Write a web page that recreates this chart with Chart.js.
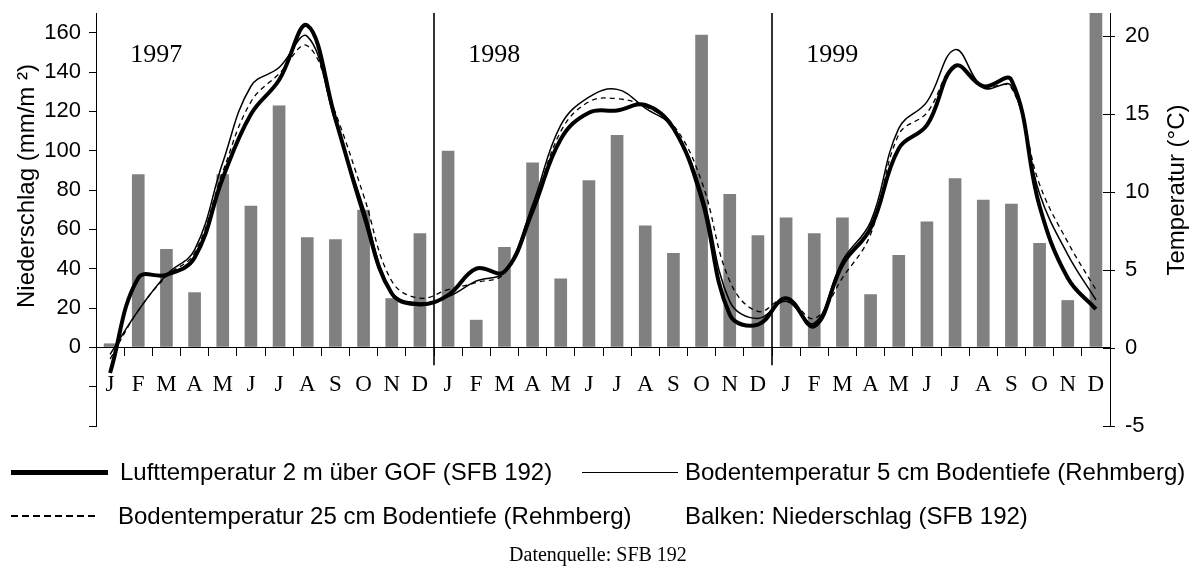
<!DOCTYPE html>
<html lang="de">
<head>
<meta charset="utf-8">
<title>Niederschlag und Temperatur 1997-1999</title>
<script src="https://cdn.jsdelivr.net/npm/chart.js@4.4.1/dist/chart.umd.min.js"></script>
<style>
  html, body { margin: 0; padding: 0; background: #fff; }
  #wrap { position: relative; width: 1196px; height: 568px; }
  #chart { position: absolute; left: 0; top: 0; }
  .lg { position: absolute; font-family: Arial, "Liberation Sans", sans-serif; font-size: 24px; line-height: 28px; color: #000; white-space: nowrap; }
  .smp { position: absolute; background: #000; }
  .foot { position: absolute; font-family: "Times New Roman", "Liberation Serif", serif; font-size: 20px; line-height: 24px; color: #000; white-space: nowrap; }
</style>
</head>
<body>
<div id="wrap">
  <canvas id="chart" width="1196" height="568"></canvas>

  <!-- Legende -->
  <div class="smp" style="left:11px;top:470px;width:97px;height:5px"></div>
  <div class="lg" style="left:120px;top:458px">Lufttemperatur 2 m über GOF (SFB 192)</div>
  <div class="smp" style="left:582px;top:472px;width:96px;height:1.3px"></div>
  <div class="lg" style="left:685px;top:458px">Bodentemperatur 5 cm Bodentiefe (Rehmberg)</div>

  <div class="smp" style="left:11px;top:515px;width:86px;height:1.5px;background:repeating-linear-gradient(90deg,#000 0 7px,transparent 7px 11px)"></div>
  <div class="lg" style="left:118px;top:502px">Bodentemperatur 25 cm Bodentiefe (Rehmberg)</div>
  <div class="lg" style="left:685px;top:502px">Balken: Niederschlag (SFB 192)</div>

  <div class="foot" style="left:0;width:1196px;text-align:center;top:542px">Datenquelle: SFB 192</div>
</div>

<script>
  'use strict';

  // ============ Daten ============

  const years = ['1997', '1998', '1999'];
  const monthInitials = ['J', 'F', 'M', 'A', 'M', 'J', 'J', 'A', 'S', 'O', 'N', 'D'];
  const months = monthInitials.concat(monthInitials, monthInitials);

  // Niederschlag (mm/m²), Monatssummen Jan 1997 - Dez 1999
  const niederschlag = [
    2, 88, 50, 28, 88, 72, 123, 56, 55, 70, 25, 58,
    100, 14, 51, 94, 35, 85, 108, 62, 48, 159, 78, 57,
    66, 58, 66, 27, 47, 64, 86, 75, 73, 53, 24, 170
  ];

  // Lufttemperatur 2 m über GOF (°C)
  const luftTemp = [
    -1.6, 4.5, 4.7, 5.8, 10.9, 15.0, 17.2, 20.7, 14.7, 8.6, 3.5, 2.8,
    3.4, 5.1, 4.9, 8.8, 13.4, 15.1, 15.25, 15.6, 14.1, 9.6, 2.15, 1.5,
    3.2, 1.4, 5.35, 7.7, 12.8, 14.3, 18.1, 16.8, 17.2, 9.1, 4.5, 2.5
  ];

  // Bodentemperatur 5 cm Bodentiefe (°C)
  const boden5 = [
    -0.4, 2.4, 4.7, 6.3, 11.9, 16.8, 18.0, 20.0, 14.5, 9.0, 3.6, 2.9,
    3.3, 4.3, 4.9, 9.2, 14.3, 16.1, 16.6, 15.4, 14.1, 10.0, 3.0, 1.9,
    3.0, 1.6, 5.6, 8.1, 14.1, 15.8, 19.15, 16.7, 16.8, 9.9, 6.0, 3.1
  ];

  // Bodentemperatur 25 cm Bodentiefe (°C)
  const boden25 = [
    -0.7, 2.4, 4.6, 6.1, 11.3, 15.8, 17.6, 19.4, 15.1, 9.8, 4.3, 3.2,
    3.75, 4.2, 4.8, 8.9, 13.9, 15.8, 16.0, 15.5, 14.3, 10.7, 4.3, 2.35,
    3.2, 1.9, 4.5, 7.3, 13.7, 15.1, 18.1, 16.8, 16.7, 10.5, 6.8, 3.75
  ];

  // ============ Stil ============

  const SANS = 'Arial, "Liberation Sans", sans-serif';
  const SERIF = '"Times New Roman", "Liberation Serif", serif';

  function zeroPadding(scale) {
    scale.paddingTop = 0;
    scale.paddingBottom = 0;
    scale.paddingLeft = 0;
    scale.paddingRight = 0;
  }

  // Jahrestrenner, Jahreszahlen, Achsentitel
  const decorPlugin = {
    id: 'decor',
    beforeDatasetsDraw(chart) {
      const ctx = chart.ctx;
      const xs = chart.scales.x;
      const yT = chart.scales.yT;
      const area = chart.chartArea;
      const yBottom = yT.getPixelForValue(-1.1);
      ctx.save();
      ctx.strokeStyle = '#000';
      ctx.lineWidth = 1.6;
      [12, 24].forEach(function (i) {
        const x = (xs.getPixelForValue(i - 1) + xs.getPixelForValue(i)) / 2;
        ctx.beginPath();
        ctx.moveTo(x, area.top);
        ctx.lineTo(x, yBottom);
        ctx.stroke();
      });

      // rechte Achse: Teilstriche ragen auch nach innen
      ctx.lineWidth = 1;
      yT.ticks.forEach(function (t) {
        const y = Math.round(yT.getPixelForValue(t.value)) + 0.5;
        ctx.beginPath();
        ctx.moveTo(area.right - 7, y);
        ctx.lineTo(area.right, y);
        ctx.stroke();
      });
      ctx.restore();
    },
    afterDraw(chart) {
      const ctx = chart.ctx;
      const xs = chart.scales.x;
      ctx.save();
      ctx.fillStyle = '#000';

      // Jahreszahlen
      ctx.font = '26px ' + SERIF;
      ctx.textAlign = 'center';
      ctx.textBaseline = 'alphabetic';
      years.forEach(function (yr, k) {
        const x = (xs.getPixelForValue(12 * k + 1) + xs.getPixelForValue(12 * k + 2)) / 2 + 4;
        ctx.fillText(yr, x, 62);
      });

      // Achsentitel
      ctx.font = '24px ' + SANS;
      ctx.save();
      ctx.translate(34, 186);
      ctx.rotate(-Math.PI / 2);
      ctx.fillText('Niederschlag (mm/m \u00B2)', 0, 0);
      ctx.restore();

      ctx.save();
      ctx.translate(1184, 190);
      ctx.rotate(-Math.PI / 2);
      ctx.fillText('Temperatur (\u00B0C)', 0, 0);
      ctx.restore();

      ctx.restore();
    }
  };

  // ============ Diagramm ============

  new Chart(document.getElementById('chart'), {
    type: 'bar',
    data: {
      labels: months,
      datasets: [
        {
          type: 'line',
          label: 'Lufttemperatur 2 m über GOF (SFB 192)',
          data: luftTemp,
          yAxisID: 'yT',
          borderColor: '#000',
          borderWidth: 4,
          tension: 0.4,
          pointRadius: 0,
          fill: false,
          order: 0
        },
        {
          type: 'line',
          label: 'Bodentemperatur 5 cm Bodentiefe (Rehmberg)',
          data: boden5,
          yAxisID: 'yT',
          borderColor: '#000',
          borderWidth: 1.5,
          tension: 0.4,
          pointRadius: 0,
          fill: false,
          order: 1
        },
        {
          type: 'line',
          label: 'Bodentemperatur 25 cm Bodentiefe (Rehmberg)',
          data: boden25,
          yAxisID: 'yT',
          borderColor: '#000',
          borderWidth: 1.3,
          borderDash: [5, 4],
          tension: 0.4,
          pointRadius: 0,
          fill: false,
          order: 2
        },
        {
          type: 'bar',
          label: 'Niederschlag (SFB 192)',
          data: niederschlag,
          yAxisID: 'y',
          backgroundColor: '#808080',
          barPercentage: 0.45,
          categoryPercentage: 1.0,
          order: 3
        }
      ]
    },
    options: {
      responsive: false,
      animation: false,
      layout: { padding: { left: 0, right: 0, top: 13, bottom: 142 } },
      plugins: {
        legend: { display: false },
        tooltip: { enabled: false }
      },
      scales: {
        x: {
          type: 'category',
          position: { y: 0 },
          offset: true,
          grid: { display: true, drawOnChartArea: false, drawTicks: true, tickLength: 8, color: '#000', offset: true },
          border: { display: true, color: '#000', width: 1 },
          ticks: { font: { family: SERIF, size: 23 }, color: '#000', padding: 16, autoSkip: false, maxRotation: 0 },
          afterFit: zeroPadding
        },
        y: {
          position: 'left',
          min: -40,
          max: 170,
          grid: { drawOnChartArea: false, tickLength: 7, color: '#000' },
          border: { display: true, color: '#000', width: 1 },
          ticks: {
            stepSize: 20,
            includeBounds: false,
            font: { family: SANS, size: 22 },
            color: '#000',
            padding: 8,
            callback: function (v) { return v < 0 ? '' : v; }
          },
          afterBuildTicks: function (s) { s.ticks = s.ticks.filter(function (t) { return t.value % 20 === 0; }); },
          afterFit: function (s) { s.width = 96; zeroPadding(s); }
        },
        yT: {
          position: 'right',
          min: -5,
          max: 21.5,
          grid: { drawOnChartArea: false, tickLength: 5, color: '#000' },
          border: { display: true, color: '#000', width: 1 },
          ticks: { stepSize: 5, includeBounds: false, font: { family: SANS, size: 22 }, color: '#000', padding: 10 },
          afterBuildTicks: function (s) { s.ticks = s.ticks.filter(function (t) { return t.value % 5 === 0; }); },
          afterFit: function (s) { s.width = 86; zeroPadding(s); }
        }
      }
    },
    plugins: [decorPlugin]
  });
</script>
</body>
</html>
